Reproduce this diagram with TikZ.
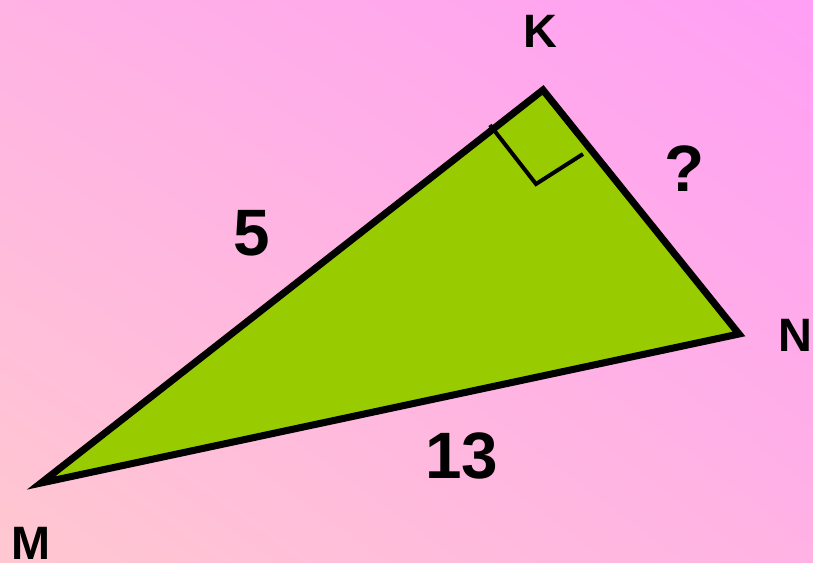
\documentclass[tikz,border=0pt]{standalone}
\usepackage{fontspec}
\setmainfont{Liberation Sans}
\usepackage{xcolor}
\usetikzlibrary{shadings}
\definecolor{bgtopleft}{HTML}{FFB2E4}
\definecolor{bgtopright}{HTML}{FF9FF5}
\definecolor{bgbotleft}{HTML}{FFC8D0}
\definecolor{bgbotright}{HTML}{FFB2E4}
\definecolor{triangle}{HTML}{99CC00}
\tikzset{
  vertexlbl/.style={font=\fontsize{40}{48}\selectfont\bfseries, inner sep=0pt},
  sidelbl/.style={font=\fontsize{56}{64}\selectfont\bfseries, inner sep=0pt},
}

\begin{document}
\begin{tikzpicture}[x=0.03cm, y=-0.03cm]
    % background
    \shade[upper left=bgtopleft, upper right=bgtopright,
           lower left=bgbotleft, lower right=bgbotright] (0,0) rectangle (813,563);
    \useasboundingbox (0,0) rectangle (813,563);

    \coordinate (K) at (543,90);
    \coordinate (N) at (739,334);
    \coordinate (M) at (41,483);

    % triangle
    \draw[fill=triangle, line width=6pt, line join=miter] (K) -- (N) -- (M) -- cycle;

    % right angle marker
    \coordinate (raA) at (490,125);
    \coordinate (raB) at (536,184);
    \coordinate (raC) at (583,154);
    \draw[line width=3.4pt] (raA) -- (raB) -- (raC);

    % labels
    \node[vertexlbl] (lblK) at (540,31) {K};
    \node[vertexlbl] (lblN) at (795,335) {N};
    \node[vertexlbl] (lblM) at (31,543) {M};
    \node[sidelbl] (lblKM) at (252,233) {5};
    \node[sidelbl] (lblKN) at (685,169) {?};
    \node[sidelbl] (lblMN) at (462,456) {13};
\end{tikzpicture}
\end{document}
